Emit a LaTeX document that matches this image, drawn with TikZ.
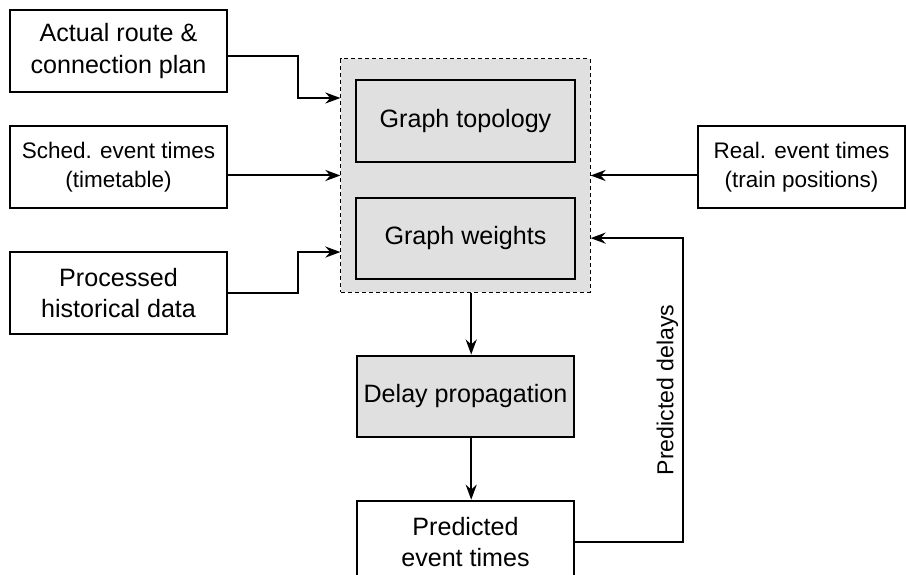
\documentclass[tikz,border=0pt]{standalone}
\usepackage{fontspec}
\setmainfont{Liberation Sans}
\usetikzlibrary{positioning, arrows.meta}
\definecolor{boxgray}{RGB}{224,224,224}
\tikzstyle{iobox} = [rectangle, minimum width=3.8cm, minimum height=1.435cm, text centered, draw=black, line width=1pt, fill=white]
\tikzstyle{process} = [rectangle, minimum width=3.83cm, minimum height=1.42cm, text centered, draw=black, line width=1pt, fill=boxgray]
\tikzstyle{group} = [rectangle, minimum width=4.36cm, minimum height=4.08cm, inner sep=0pt, draw=black, line width=0.5pt, dash pattern=on 2pt off 1.5pt, fill=boxgray]
\tikzstyle{arrow} = [line width=1pt, -{Stealth[length=7.5pt, width=5.5pt]}]
\tikzstyle{smalltext} = [font=\fontsize{11.2}{14.5}\selectfont]

\begin{document}
\begin{tikzpicture}[node distance=1.085cm, align=center, font=\fontsize{12.5}{15.5}\selectfont]
    \useasboundingbox (0,0) rectangle (15.855,-10.045);

    \node (model) [group] at (8.146,-3.071) {};
    \node (topology) [process, below=0.3675cm of model.north] {Graph topology};
    \node (weights) [process, below=0.595cm of topology] {Graph weights};
    \node (delay) [process, minimum width=3.8cm, below=of model] {Delay propagation};
    \node (predicted) [iobox, below=of delay] {Predicted\\event times};

    \node (sched) [iobox, smalltext] at (2.074,-2.9225) {Sched. event times\\(timetable)};
    \node (route) [iobox, above=0.56cm of sched] {Actual route \&\\connection plan};
    \node (history) [iobox, below=0.735cm of sched] {Processed\\historical data};
    \node (real) [iobox, smalltext, minimum width=3.62cm] at (14.026,-2.931) {Real. event times\\(train positions)};

    \draw [arrow] ([yshift=-0.09cm]route.east) -- ++(1.225,0) |- ([yshift=1.356cm]model.west);
    \draw [arrow] (sched.east |- model.west) -- (model.west);
    \draw [arrow] (history.east) -- ++(1.225,0) |- ([yshift=-1.34cm]model.west);
    \draw [arrow] (real.west |- model.east) -- (model.east);
    \draw [arrow] ([xshift=0.1cm]model.south) -- ([xshift=0.1cm]model.south |- delay.north);
    \draw [arrow] ([xshift=0.1cm]model.south |- delay.south) -- ([xshift=0.1cm]model.south |- predicted.north);
    \draw [arrow] (predicted.east) -- ++(1.89,0) coordinate (turn) -- (turn |- weights.east) node[midway, above, sloped, inner sep=2pt, font=\fontsize{11.5}{14}\selectfont] {Predicted delays} -- (weights.east -| model.east);
\end{tikzpicture}
\end{document}
